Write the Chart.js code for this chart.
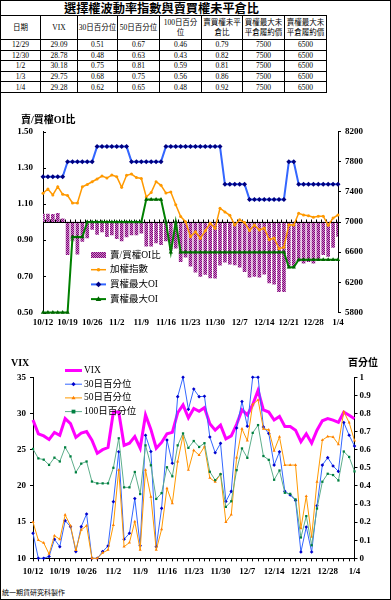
<!DOCTYPE html>
<html lang="zh-Hant">
<head>
<meta charset="utf-8">
<title>選擇權波動率指數與賣買權未平倉比</title>
<script src="https://cdn.jsdelivr.net/npm/chart.js@4.4.1/dist/chart.umd.min.js"></script>
<style>
html,body{margin:0;padding:0;background:#fff;}
#page{position:relative;width:391px;height:600px;overflow:hidden;background:#fff;}
#frame{position:absolute;left:0;top:0;width:391px;height:600px;box-sizing:border-box;border:1px solid #000;pointer-events:none;}
.abs{position:absolute;white-space:nowrap;color:#000;}
#title{left:64px;top:0px;font:bold 12.2px/16px "Noto Sans CJK TC",sans-serif;}
#tbl{position:absolute;left:0;top:15px;border-collapse:collapse;table-layout:fixed;width:327px;font-family:"Liberation Serif","Noto Sans CJK TC",serif;font-size:7.5px;color:#000;}
#tbl td{border:1px solid #000;padding:0;text-align:center;vertical-align:middle;overflow:hidden;white-space:nowrap;}
#tbl tr.h{height:24px;}
#tbl tr.h td{line-height:10px;}
#tbl tr.d{height:10.6px;}
#tbl tr.d td{line-height:9px;}
canvas{position:absolute;left:0;}
.axt{font:bold 10px "Liberation Serif","Noto Sans CJK TC",serif;line-height:12px;}
#foot{left:2px;top:588px;font:7px/9px "Noto Sans CJK TC",sans-serif;}
</style>
</head>
<body>
<div id="page">
  <canvas id="c1" width="391" height="222" style="top:110px"></canvas>
  <canvas id="c2" width="391" height="237" style="top:345px"></canvas>
  <div id="title" class="abs">選擇權波動率指數與賣買權未平倉比</div>
  <table id="tbl"></table>
  <div class="abs axt" style="left:21px;top:114px">賣/買權OI比</div>
  <div class="abs axt" style="left:11px;top:357px">VIX</div>
  <div class="abs axt" style="left:348px;top:357px">百分位</div>
  <div id="foot" class="abs">統一期貨研究科製作</div>
  <div id="frame"></div>
</div>
<script>
// ---------- data ----------
const dates = ['10/12','10/13','10/14','10/17','10/18','10/19','10/20','10/21','10/24','10/25','10/26','10/27','10/28','10/31',
  '11/1','11/2','11/3','11/4','11/7','11/8','11/9','11/10','11/11','11/14','11/15','11/16','11/17','11/18','11/21','11/22','11/23','11/24','11/25','11/28','11/29','11/30',
  '12/1','12/2','12/5','12/6','12/7','12/8','12/9','12/12','12/13','12/14','12/15','12/16','12/19','12/20','12/21','12/22','12/23','12/26','12/27','12/28','12/29','12/30',
  '1/2','1/3','1/4'];

// 賣/買權OI比 (left axis, chart 1)
const oiRatio = [1.044,1.044,1.042,1.048,1.017,0.820,0.895,0.822,0.893,0.912,
  0.959,0.931,0.945,0.919,0.928,0.908,0.895,0.917,0.928,0.928,
  0.938,0.867,0.867,0.885,0.875,0.896,0.845,0.855,0.781,0.806,
  0.756,0.723,0.700,0.710,0.691,0.689,0.762,0.778,0.767,0.763,
  0.750,0.726,0.695,0.700,0.695,0.712,0.663,0.656,0.615,0.615,
  0.758,0.754,0.783,0.773,0.781,0.772,0.79,0.82,0.81,0.86,0.92];

// 加權指數 (right axis, chart 1)
const taiex = [7381,7438,7358,7468,7367,7351,7252,7252,7468,7497,
  7534,7570,7610,7583,7623,7601,7460,7619,7636,7590,
  7577,7332,7391,7534,7487,7385,7398,7229,7073,7004,
  6805,6871,6784,6883,6983,6916,7182,7133,7089,6960,
  7030,6993,6887,6960,6894,6920,6765,6788,6646,6666,
  6964,6960,7115,7093,7082,7064,7077,7077,6956,7053,7093];

// 買權最大OI strike
const callMaxOI = [7600,7600,7600,7600,7600,
  7800,7800,7800,7800,7800,7800,
  8000,8000,8000,8000,8000,8000,8000,
  7800,7800,7800,7800,7800,7800,7800,
  8000,8000,8000,8000,8000,8000,8000,8000,8000,8000,8000,8000,
  7500,7500,7500,7500,7500,
  7300,7300,7300,7300,7300,7300,7300,7300,
  7800,7800,
  7500,7500,7500,7500,7500,7500,7500,7500,7500];

// 賣權最大OI strike
const putMaxOI = [5800,5800,5800,5800,5800,5800,
  6800,6800,6800,
  7000,7000,7000,7000,7000,7000,7000,7000,7000,7000,7000,7000,
  7300,7300,7300,7300,
  7000,6600,7000,
  6600,6600,6600,6600,6600,6600,6600,6600,6600,6600,6600,6600,6600,6600,6600,6600,6600,6600,6600,6600,6600,6600,
  6400,6400,
  6500,6500,6500,6500,6500,6500,6500,6500,6500];

// VIX (left axis, chart 2)
const vix = [29.1,27.2,26.9,26.4,27.4,27.0,29.3,28.6,26.7,27.3,
  27.5,26.3,24.5,25.0,25.3,30.2,30.2,25.6,25.9,26.8,
  25.2,29.8,27.8,25.2,26.0,27.2,27.4,30.1,31.2,29.4,
  30.7,30.3,30.8,28.6,27.7,28.4,26.5,26.9,28.5,30.5,
  29.8,31.2,33.2,30.5,30.2,29.1,29.6,28.2,28.2,27.7,
  26.1,27.2,25.9,27.7,29.0,29.3,29.09,28.78,30.18,29.75,29.28];

// percentiles (right axis, chart 2)
const pct30 = [0.138,0.0,0.0,0.01,0.105,0.064,0.208,0.175,0.037,0.175,
  0.245,0.0,0.0,0.037,0.068,0.313,0.589,0.105,0.138,0.33,
  0.07,0.68,0.59,0.064,0.276,0.654,0.525,0.893,1.0,0.823,
  0.935,0.893,0.895,0.67,0.583,0.635,0.314,0.37,0.72,0.866,
  0.73,1.0,1.0,0.726,0.69,0.515,0.588,0.37,0.35,0.32,
  0.035,0.173,0.035,0.29,0.515,0.556,0.51,0.48,0.75,0.68,0.62];

const pct50 = [0.2,0.1,0.085,0.024,0.125,0.105,0.24,0.18,0.045,0.157,
  0.18,0.0,0.0,0.03,0.046,0.184,0.488,0.064,0.087,0.203,
  0.046,0.488,0.34,0.046,0.16,0.387,0.304,0.534,0.68,0.488,
  0.597,0.57,0.617,0.444,0.422,0.465,0.2,0.241,0.556,0.715,
  0.65,0.85,0.875,0.715,0.71,0.594,0.671,0.515,0.515,0.515,
  0.165,0.343,0.118,0.422,0.653,0.673,0.67,0.63,0.81,0.75,0.65];

const pct100 = [0.604,0.552,0.545,0.516,0.556,0.535,0.613,0.563,0.475,0.523,
  0.535,0.424,0.414,0.414,0.414,0.5,0.663,0.392,0.392,0.477,
  0.355,0.624,0.514,0.328,0.36,0.503,0.453,0.624,0.69,0.61,
  0.648,0.615,0.636,0.478,0.432,0.465,0.284,0.315,0.487,0.607,
  0.555,0.693,0.736,0.565,0.544,0.434,0.485,0.362,0.356,0.325,
  0.115,0.233,0.072,0.275,0.423,0.467,0.46,0.43,0.59,0.56,0.48];

// axis tick values
const ratioTicks = [0.5,0.7,0.9,1.1,1.3,1.5];
const indexTicks = [5800,6200,6600,7000,7400,7800,8200];
const vixTicks = [10,15,20,25,30,35];
const pctTicks = [0,0.1,0.2,0.3,0.4,0.5,0.6,0.7,0.8,0.9,1];

// table headings
const tableHeads = ['日期','VIX','30日百分位','50日百分位','100日百分<br>位','賣買權未平<br>倉比','買權最大未<br>平倉履約價','賣權最大未<br>平倉履約價'];
const colWidths = [40,37,40,42,42,41,42,42];

// ---------- table ----------
(function(){
  const t = document.getElementById('tbl');
  let html = '<colgroup>' + colWidths.map(w=>'<col style="width:'+w+'px">').join('') + '</colgroup>';
  html += '<tr class="h">' + tableHeads.map(h=>'<td>'+h+'</td>').join('') + '</tr>';
  const n = dates.length;
  for (let i = n-5; i < n; i++) {
    const cells = [dates[i], vix[i].toFixed(2), pct30[i].toFixed(2), pct50[i].toFixed(2), pct100[i].toFixed(2),
      oiRatio[i].toFixed(2), String(callMaxOI[i]), String(putMaxOI[i])];
    html += '<tr class="d">' + cells.map(c=>'<td>'+c+'</td>').join('') + '</tr>';
  }
  t.innerHTML = html;
})();

// ---------- helpers ----------
Chart.defaults.font.family = '"Liberation Serif","Noto Sans CJK TC",serif';
Chart.defaults.color = '#000';

function marker(ctx, style, x, y, r, color){
  ctx.save();
  ctx.fillStyle = color;
  ctx.beginPath();
  if (style === 'rectRot') { ctx.moveTo(x, y-r); ctx.lineTo(x+r, y); ctx.lineTo(x, y+r); ctx.lineTo(x-r, y); }
  else if (style === 'triangle') { ctx.moveTo(x, y-r); ctx.lineTo(x+r, y+r*0.7); ctx.lineTo(x-r, y+r*0.7); }
  else if (style === 'rect') { ctx.rect(x-r, y-r, 2*r, 2*r); }
  else { ctx.arc(x, y, r, 0, Math.PI*2); }
  ctx.closePath();
  ctx.fill();
  ctx.restore();
}

const customLegend = {
  id: 'customLegend',
  afterDraw(chart, args, o) {
    const ctx = chart.ctx;
    ctx.save();
    ctx.font = o.font;
    ctx.textBaseline = 'middle';
    chart.data.datasets.forEach((ds, i) => {
      const y = o.y + i * o.dy;
      if (ds.type === 'bar') {
        ctx.fillStyle = ds.backgroundColor;
        ctx.fillRect(o.x, y - 3, o.w, 6);
      } else {
        ctx.strokeStyle = ds.borderColor;
        ctx.lineWidth = ds.borderWidth;
        ctx.beginPath();
        ctx.moveTo(o.x, y); ctx.lineTo(o.x + o.w, y);
        ctx.stroke();
        if (ds.pointRadius > 0) marker(ctx, ds.pointStyle, o.x + o.w/2, y, ds.pointRadius + 0.3, ds.pointBackgroundColor);
      }
      ctx.fillStyle = '#000';
      ctx.fillText(ds.label, o.tx, y);
    });
    ctx.restore();
  }
};

// baseline at 1.00 with category tick marks + inward left ticks (chart 1)
const baseline = {
  id: 'baseline',
  afterDatasetDraw(chart, args) {
    if (args.index !== 0) return;
    const ctx = chart.ctx, a = chart.chartArea, x = chart.scales.x, y = chart.scales.y;
    const yy = Math.round(y.getPixelForValue(1)) + 0.5;
    ctx.save();
    ctx.strokeStyle = '#000';
    ctx.lineWidth = 1;
    ctx.beginPath();
    ctx.moveTo(a.left, yy); ctx.lineTo(a.right, yy);
    for (let i = 0; i < chart.data.labels.length - 1; i++) {
      const xx = Math.round((x.getPixelForValue(i) + x.getPixelForValue(i+1)) / 2) + 0.5;
      ctx.moveTo(xx, yy); ctx.lineTo(xx, yy - 3);
    }
    y.ticks.forEach(t => {
      const ty = Math.round(y.getPixelForValue(t.value)) + 0.5;
      ctx.moveTo(a.left, ty); ctx.lineTo(a.left + 3, ty);
    });
    ctx.stroke();
    ctx.restore();
  }
};

const tickFont = {size: 9, weight: 'bold'};
const legendFont = '9.5px "Liberation Serif","Noto Sans CJK TC",serif';

// ---------- chart 1 ----------
const c1 = document.getElementById('c1');
const ctx1 = c1.getContext('2d');
const pc = document.createElement('canvas'); pc.width = 2; pc.height = 2;
const pcx = pc.getContext('2d');
pcx.fillStyle = '#d27ad0'; pcx.fillRect(0, 0, 2, 2);
pcx.fillStyle = '#7a1070'; pcx.fillRect(0, 0, 1, 1); pcx.fillRect(1, 1, 1, 1);
const barFill = ctx1.createPattern(pc, 'repeat');

new Chart(c1, {
  data: {
    labels: dates,
    datasets: [
      {type:'bar', label:'賣/買權OI比', data: oiRatio, yAxisID:'y', base: 1, backgroundColor: barFill, barThickness: 3, order: 4},
      {type:'line', label:'加權指數', data: taiex, yAxisID:'y1', borderColor:'#FF9900', pointBackgroundColor:'#FF9900', borderWidth:1.5, pointRadius:1.5, pointStyle:'circle', pointBorderWidth:0, tension:0, clip:false, order:3},
      {type:'line', label:'買權最大OI', data: callMaxOI, yAxisID:'y1', borderColor:'#3366FF', pointBackgroundColor:'#000080', borderWidth:2, pointRadius:2.5, pointStyle:'rectRot', pointBorderWidth:0, tension:0, clip:false, order:2},
      {type:'line', label:'賣權最大OI', data: putMaxOI, yAxisID:'y1', borderColor:'#008000', pointBackgroundColor:'#006400', borderWidth:2, pointRadius:2.5, pointStyle:'triangle', pointBorderWidth:0, tension:0, clip:false, order:1}
    ]
  },
  options: {
    responsive: false, animation: false, events: [],
    layout: {padding: {top: 21.5, left: 0, right: 0, bottom: 0}},
    plugins: {
      legend: {display: false}, tooltip: {enabled: false},
      customLegend: {x: 91, y: 145, dy: 14.7, w: 15, tx: 110, font: legendFont}
    },
    scales: {
      x: {type:'category', offset:false,
          grid:{display:false, drawTicks:false}, border:{display:false},
          ticks:{autoSkip:false, maxRotation:0, minRotation:0, padding:5, font:tickFont,
                 callback:(v, i) => (i % 5 === 0 ? dates[i] : '')},
          afterFit: s => { s.height = 19.5; }},
      y: {type:'linear', position:'left', min:0.5, max:1.5,
          afterBuildTicks: s => { s.ticks = ratioTicks.map(v => ({value: v})); },
          ticks:{padding:10, font:tickFont, callback: v => Number(v).toFixed(2)},
          grid:{display:false, drawTicks:false}, border:{display:true, color:'#000', width:1},
          afterFit: s => { s.width = 43; }},
      y1: {type:'linear', position:'right', min:5800, max:8200,
          afterBuildTicks: s => { s.ticks = indexTicks.map(v => ({value: v})); },
          ticks:{padding:4, font:tickFont, callback: v => String(v)},
          grid:{display:true, drawOnChartArea:false, drawTicks:true, tickLength:3, color:'#000'},
          border:{display:true, color:'#000', width:1},
          afterFit: s => { s.width = 53; }}
    }
  },
  plugins: [baseline, customLegend]
});

// ---------- chart 2 ----------
const c2 = document.getElementById('c2');
new Chart(c2, {
  type: 'line',
  data: {
    labels: dates,
    datasets: [
      {type:'line', label:'VIX', data: vix, yAxisID:'y', borderColor:'#FF00FF', borderWidth:3, pointRadius:0, tension:0, clip:false, order:4},
      {type:'line', label:'30日百分位', data: pct30, yAxisID:'y1', borderColor:'#3366FF', pointBackgroundColor:'#0000CC', borderWidth:1, pointRadius:1.8, pointStyle:'rectRot', pointBorderWidth:0, tension:0, clip:false, order:3},
      {type:'line', label:'50日百分位', data: pct50, yAxisID:'y1', borderColor:'#FF9900', pointBackgroundColor:'#FF8000', borderWidth:1, pointRadius:1.8, pointStyle:'triangle', pointBorderWidth:0, tension:0, clip:false, order:2},
      {type:'line', label:'100日百分位', data: pct100, yAxisID:'y1', borderColor:'#5DAE8B', pointBackgroundColor:'#008040', borderWidth:1, pointRadius:1.6, pointStyle:'rect', pointBorderWidth:0, tension:0, clip:false, order:1}
    ]
  },
  options: {
    responsive: false, animation: false, events: [],
    layout: {padding: {top: 32.3, left: 0, right: 0, bottom: 0}},
    plugins: {
      legend: {display: false}, tooltip: {enabled: false},
      customLegend: {x: 65, y: 25.5, dy: 13.7, w: 17, tx: 84, font: legendFont}
    },
    scales: {
      x: {type:'category', offset:false,
          grid:{display:true, drawOnChartArea:false, drawTicks:true, tickLength:3, color:'#000'},
          border:{display:true, color:'#000', width:1},
          ticks:{autoSkip:false, maxRotation:0, minRotation:0, padding:5, font:tickFont,
                 callback:(v, i) => (i % 5 === 0 ? dates[i] : '')},
          afterFit: s => { s.height = 23.7; }},
      y: {type:'linear', position:'left', min:10, max:35,
          afterBuildTicks: s => { s.ticks = vixTicks.map(v => ({value: v})); },
          ticks:{padding:4, font:tickFont, callback: v => String(v)},
          grid:{display:true, drawOnChartArea:false, drawTicks:true, tickLength:3, color:'#000'},
          border:{display:true, color:'#000', width:1},
          afterFit: s => { s.width = 33; }},
      y1: {type:'linear', position:'right', min:0, max:1,
          afterBuildTicks: s => { s.ticks = pctTicks.map(v => ({value: v})); },
          ticks:{padding:2, font:tickFont, callback: v => (v === 0 || v === 1 ? String(v) : Number(v).toFixed(1))},
          grid:{display:true, drawOnChartArea:false, drawTicks:true, tickLength:3, color:'#000'},
          border:{display:true, color:'#000', width:1},
          afterFit: s => { s.width = 36.5; }}
    }
  },
  plugins: [customLegend]
});
</script>
</body>
</html>
